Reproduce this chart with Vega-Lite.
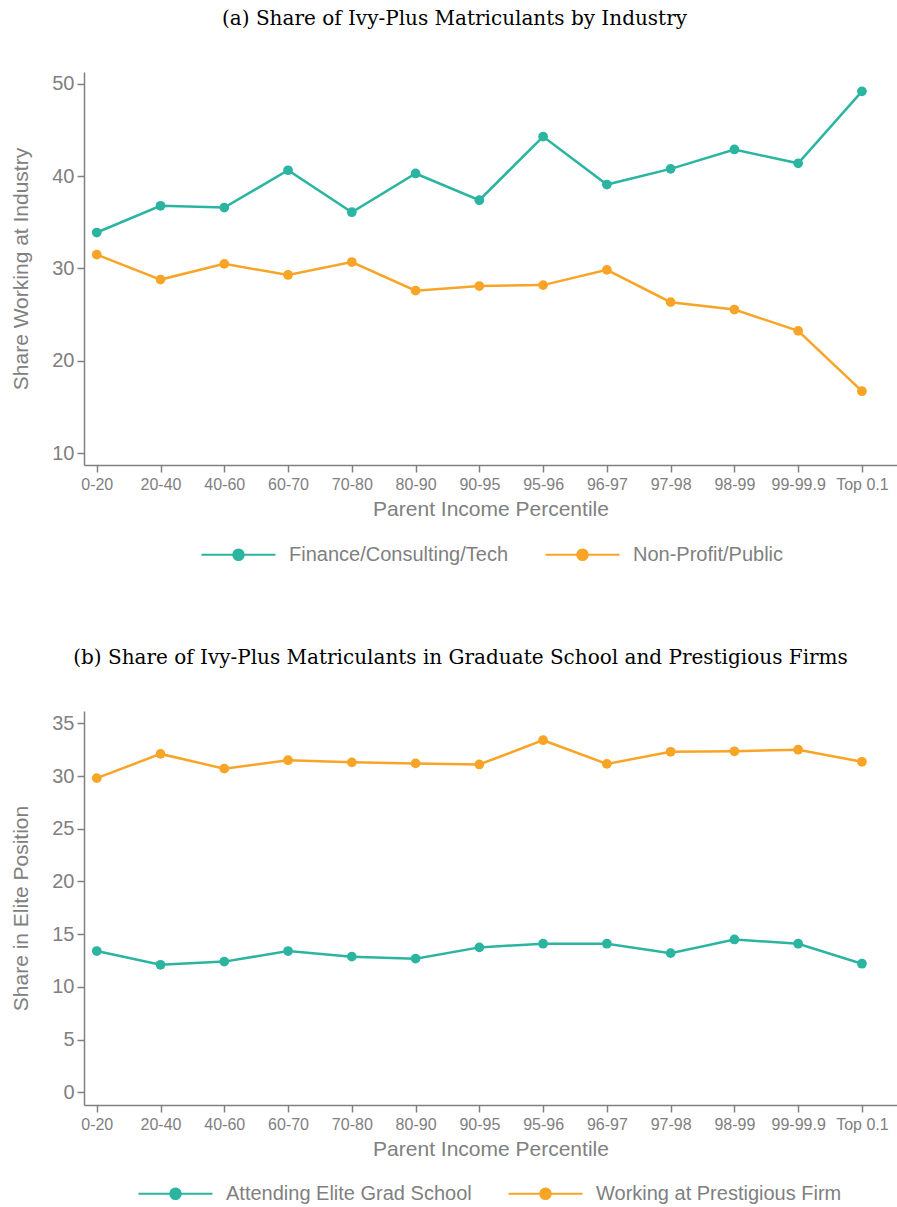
{
  "$schema": "https://vega.github.io/schema/vega-lite/v6.json",
  "padding": {"left": 10, "top": 9, "right": 0, "bottom": 0},
  "background": "white",
  "spacing": 83,
  "resolve": {"scale": {"color": "independent"}, "legend": {"color": "independent"}},
  "config": {
    "view": {"stroke": null},
    "axis": {
      "grid": false,
      "domainColor": "#808080",
      "domainWidth": 1.5,
      "tickColor": "#808080",
      "tickWidth": 1.5,
      "tickSize": 7,
      "labelColor": "#808080",
      "titleColor": "#808080",
      "labelFont": "Liberation Sans",
      "titleFont": "Liberation Sans",
      "titleFontWeight": "normal"
    },
    "legend": {
      "labelFont": "Liberation Sans",
      "labelColor": "#808080",
      "labelFontSize": 20,
      "labelLimit": 0,
      "direction": "horizontal",
      "title": null
    },
    "title": {"font": "DejaVu Serif", "fontSize": 20, "fontWeight": "normal", "color": "black"}
  },
  "datasets": {
    "a": [
      {"pct": "0-20", "i": 0, "series": "Finance/Consulting/Tech", "value": 33.9},
      {"pct": "20-40", "i": 1, "series": "Finance/Consulting/Tech", "value": 36.8},
      {"pct": "40-60", "i": 2, "series": "Finance/Consulting/Tech", "value": 36.6},
      {"pct": "60-70", "i": 3, "series": "Finance/Consulting/Tech", "value": 40.65},
      {"pct": "70-80", "i": 4, "series": "Finance/Consulting/Tech", "value": 36.1},
      {"pct": "80-90", "i": 5, "series": "Finance/Consulting/Tech", "value": 40.3},
      {"pct": "90-95", "i": 6, "series": "Finance/Consulting/Tech", "value": 37.4},
      {"pct": "95-96", "i": 7, "series": "Finance/Consulting/Tech", "value": 44.3},
      {"pct": "96-97", "i": 8, "series": "Finance/Consulting/Tech", "value": 39.1},
      {"pct": "97-98", "i": 9, "series": "Finance/Consulting/Tech", "value": 40.8},
      {"pct": "98-99", "i": 10, "series": "Finance/Consulting/Tech", "value": 42.9},
      {"pct": "99-99.9", "i": 11, "series": "Finance/Consulting/Tech", "value": 41.4},
      {"pct": "Top 0.1", "i": 12, "series": "Finance/Consulting/Tech", "value": 49.2},
      {"pct": "0-20", "i": 0, "series": "Non-Profit/Public", "value": 31.5},
      {"pct": "20-40", "i": 1, "series": "Non-Profit/Public", "value": 28.8},
      {"pct": "40-60", "i": 2, "series": "Non-Profit/Public", "value": 30.5},
      {"pct": "60-70", "i": 3, "series": "Non-Profit/Public", "value": 29.3},
      {"pct": "70-80", "i": 4, "series": "Non-Profit/Public", "value": 30.7},
      {"pct": "80-90", "i": 5, "series": "Non-Profit/Public", "value": 27.6},
      {"pct": "90-95", "i": 6, "series": "Non-Profit/Public", "value": 28.1},
      {"pct": "95-96", "i": 7, "series": "Non-Profit/Public", "value": 28.2},
      {"pct": "96-97", "i": 8, "series": "Non-Profit/Public", "value": 29.85},
      {"pct": "97-98", "i": 9, "series": "Non-Profit/Public", "value": 26.35},
      {"pct": "98-99", "i": 10, "series": "Non-Profit/Public", "value": 25.55},
      {"pct": "99-99.9", "i": 11, "series": "Non-Profit/Public", "value": 23.24},
      {"pct": "Top 0.1", "i": 12, "series": "Non-Profit/Public", "value": 16.7}
    ],
    "b": [
      {"pct": "0-20", "i": 0, "series": "Attending Elite Grad School", "value": 13.4},
      {"pct": "20-40", "i": 1, "series": "Attending Elite Grad School", "value": 12.1},
      {"pct": "40-60", "i": 2, "series": "Attending Elite Grad School", "value": 12.4},
      {"pct": "60-70", "i": 3, "series": "Attending Elite Grad School", "value": 13.4},
      {"pct": "70-80", "i": 4, "series": "Attending Elite Grad School", "value": 12.87},
      {"pct": "80-90", "i": 5, "series": "Attending Elite Grad School", "value": 12.68},
      {"pct": "90-95", "i": 6, "series": "Attending Elite Grad School", "value": 13.75},
      {"pct": "95-96", "i": 7, "series": "Attending Elite Grad School", "value": 14.1},
      {"pct": "96-97", "i": 8, "series": "Attending Elite Grad School", "value": 14.1},
      {"pct": "97-98", "i": 9, "series": "Attending Elite Grad School", "value": 13.2},
      {"pct": "98-99", "i": 10, "series": "Attending Elite Grad School", "value": 14.5},
      {"pct": "99-99.9", "i": 11, "series": "Attending Elite Grad School", "value": 14.1},
      {"pct": "Top 0.1", "i": 12, "series": "Attending Elite Grad School", "value": 12.2},
      {"pct": "0-20", "i": 0, "series": "Working at Prestigious Firm", "value": 29.8},
      {"pct": "20-40", "i": 1, "series": "Working at Prestigious Firm", "value": 32.1},
      {"pct": "40-60", "i": 2, "series": "Working at Prestigious Firm", "value": 30.7},
      {"pct": "60-70", "i": 3, "series": "Working at Prestigious Firm", "value": 31.5},
      {"pct": "70-80", "i": 4, "series": "Working at Prestigious Firm", "value": 31.3},
      {"pct": "80-90", "i": 5, "series": "Working at Prestigious Firm", "value": 31.2},
      {"pct": "90-95", "i": 6, "series": "Working at Prestigious Firm", "value": 31.1},
      {"pct": "95-96", "i": 7, "series": "Working at Prestigious Firm", "value": 33.4},
      {"pct": "96-97", "i": 8, "series": "Working at Prestigious Firm", "value": 31.15},
      {"pct": "97-98", "i": 9, "series": "Working at Prestigious Firm", "value": 32.3},
      {"pct": "98-99", "i": 10, "series": "Working at Prestigious Firm", "value": 32.35},
      {"pct": "99-99.9", "i": 11, "series": "Working at Prestigious Firm", "value": 32.5},
      {"pct": "Top 0.1", "i": 12, "series": "Working at Prestigious Firm", "value": 31.35}
    ]
  },
  "vconcat": [
    {
      "title": {"text": "(a) Share of Ivy-Plus Matriculants by Industry", "offset": 43, "dx": -36},
      "width": 813,
      "height": 393,
      "data": {"name": "a"},
      "encoding": {
        "x": {
          "field": "i", "type": "quantitative",
          "scale": {"domain": [-0.2, 12.55], "nice": false, "zero": false},
          "axis": {
            "title": "Parent Income Percentile",
            "values": [0,1,2,3,4,5,6,7,8,9,10,11,12],
            "labelExpr": "['0-20','20-40','40-60','60-70','70-80','80-90','90-95','95-96','96-97','97-98','98-99','99-99.9','Top 0.1'][datum.value]",
            "labelFontSize": 16, "titleFontSize": 21, "labelPadding": 4, "titlePadding": 6
          }
        },
        "y": {
          "field": "value", "type": "quantitative",
          "scale": {"domain": [8.7, 51.3], "nice": false, "zero": false},
          "axis": {"title": "Share Working at Industry", "values": [10,20,30,40,50], "labelFontSize": 20, "titleFontSize": 21, "labelPadding": 3, "titlePadding": 20}
        },
        "color": {
          "field": "series", "type": "nominal",
          "scale": {"domain": ["Finance/Consulting/Tech", "Non-Profit/Public"], "range": ["#2bb5a0", "#f8a427"]},
          "legend": {
            "orient": "none", "legendX": 116, "legendY": 444,
            "symbolType": "M-1,0H1M-0.14,0a0.14,0.14 0 1,0 0.28,0a0.14,0.14 0 1,0 -0.28,0",
            "symbolSize": 5476, "symbolStrokeWidth": 2.2, "labelOffset": 12, "columnPadding": 32
          }
        }
      },
      "layer": [
        {"mark": {"type": "line", "strokeWidth": 2.5}},
        {"mark": {"type": "point", "filled": true, "size": 95, "opacity": 1}}
      ]
    },
    {
      "title": {"text": "(b) Share of Ivy-Plus Matriculants in Graduate School and Prestigious Firms", "offset": 43, "dx": -30},
      "width": 813,
      "height": 394,
      "data": {"name": "b"},
      "encoding": {
        "x": {
          "field": "i", "type": "quantitative",
          "scale": {"domain": [-0.2, 12.55], "nice": false, "zero": false},
          "axis": {
            "title": "Parent Income Percentile",
            "values": [0,1,2,3,4,5,6,7,8,9,10,11,12],
            "labelExpr": "['0-20','20-40','40-60','60-70','70-80','80-90','90-95','95-96','96-97','97-98','98-99','99-99.9','Top 0.1'][datum.value]",
            "labelFontSize": 16, "titleFontSize": 21, "labelPadding": 4, "titlePadding": 6
          }
        },
        "y": {
          "field": "value", "type": "quantitative",
          "scale": {"domain": [-1.2, 36.17], "nice": false, "zero": false},
          "axis": {"title": "Share in Elite Position", "values": [0,5,10,15,20,25,30,35], "labelFontSize": 20, "titleFontSize": 21, "labelPadding": 3, "titlePadding": 20}
        },
        "color": {
          "field": "series", "type": "nominal",
          "scale": {"domain": ["Attending Elite Grad School", "Working at Prestigious Firm"], "range": ["#2bb5a0", "#f8a427"]},
          "legend": {
            "orient": "none", "legendX": 53, "legendY": 444,
            "symbolType": "M-1,0H1M-0.14,0a0.14,0.14 0 1,0 0.28,0a0.14,0.14 0 1,0 -0.28,0",
            "symbolSize": 5476, "symbolStrokeWidth": 2.2, "labelOffset": 12, "columnPadding": 32
          }
        }
      },
      "layer": [
        {"mark": {"type": "line", "strokeWidth": 2.5}},
        {"mark": {"type": "point", "filled": true, "size": 95, "opacity": 1}}
      ]
    }
  ]
}
